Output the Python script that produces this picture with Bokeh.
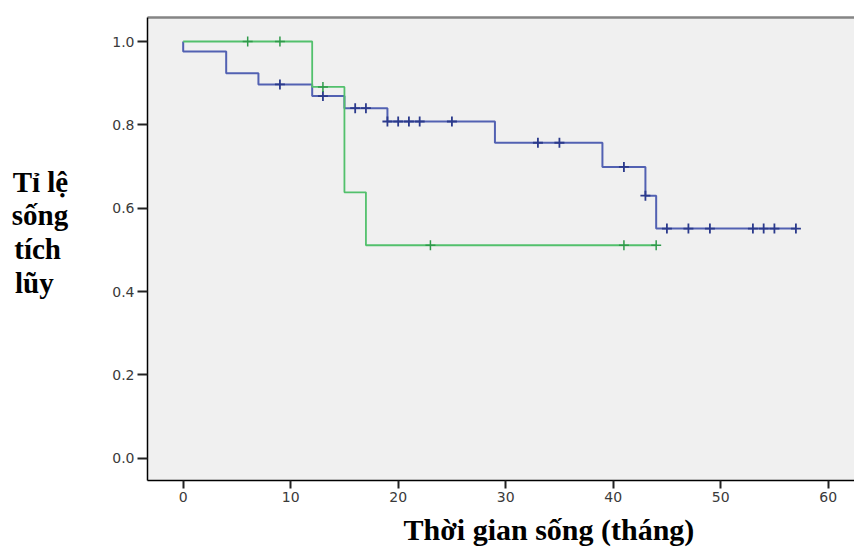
import numpy as np
from bokeh.plotting import figure
from bokeh.models import FixedTicker, PrintfTickFormatter, LinearAxis, Range1d, Title
from bokeh.embed import file_html
from bokeh.resources import INLINE

# Group 1 (blue) Kaplan-Meier steps
g1_times = [0, 0, 4, 7, 12, 15, 19, 29, 39, 43, 44, 57]
g1_surv = [1.0, 0.976, 0.924, 0.897, 0.869, 0.840, 0.808, 0.757, 0.699, 0.630, 0.551, 0.551]
g1_censor = [9, 13, 16, 17, 19, 20, 21, 22, 25, 33, 35, 41, 43, 45, 47, 49, 53, 54, 55, 57]

# Group 2 (green)
g2_times = [0, 12, 15, 17, 44]
g2_surv = [1.0, 0.891, 0.638, 0.511, 0.511]
g2_censor = [6, 9, 13, 23, 41, 44]

x_ticks = [0, 10, 20, 30, 40, 50, 60]
y_ticks = [0.0, 0.2, 0.4, 0.6, 0.8, 1.0]

x_title = "Thời gian sống (tháng)"
y_title = ["Tỉ lệ", "sống", "tích", "lũy"]

BLUE = "#5261b2"
BLUE_DARK = "#2b3a8c"
GREEN = "#52c06c"
GREEN_DARK = "#2f9a4a"
NBSP = "\u00a0"


def censor_y(times, surv, cens):
    t = np.asarray(times, dtype=float)
    s = np.asarray(surv, dtype=float)
    idx = np.searchsorted(t, np.asarray(cens, dtype=float), side="right") - 1
    return s[idx]


p = figure(width=854, height=551, output_backend="svg", toolbar_location=None,
           x_range=Range1d(-3.32, 62.45), y_range=Range1d(-0.0535, 1.0576),
           min_border_left=147, min_border_right=0, min_border_top=17, min_border_bottom=71)

p.background_fill_color = "#f0f0f0"
p.border_fill_color = "white"
p.outline_line_color = None
p.xgrid.visible = False
p.ygrid.visible = False

p.step(g1_times, g1_surv, mode="after", line_color=BLUE, line_width=2)
p.step(g2_times, g2_surv, mode="after", line_color=GREEN, line_width=1.8)

p.scatter(g1_censor, censor_y(g1_times, g1_surv, g1_censor), marker="cross", size=10,
          line_color=BLUE_DARK, line_width=1.8)
p.scatter(g2_censor, censor_y(g2_times, g2_surv, g2_censor), marker="cross", size=10,
          line_color=GREEN_DARK, line_width=1.5)

for ax in (p.xaxis[0], p.yaxis[0]):
    ax.axis_line_color = "black"
    ax.axis_line_width = 1.5
    ax.major_tick_line_color = "#222222"
    ax.major_tick_line_width = 2
    ax.major_tick_in = 0
    ax.minor_tick_line_color = None
    ax.major_label_text_font = "DejaVu Sans"
    ax.major_label_text_font_size = "14px"
    ax.major_label_text_color = "#3a3a3a"
    ax.major_label_standoff = 3

p.xaxis[0].ticker = FixedTicker(ticks=x_ticks)
p.xaxis[0].major_tick_out = 8
p.yaxis[0].ticker = FixedTicker(ticks=y_ticks)
p.yaxis[0].formatter = PrintfTickFormatter(format="%.1f")
p.yaxis[0].major_tick_out = 10

# y title: horizontal multi-line axis label; short lines padded so they read left-aligned,
# and a blank last line lifts the block to sit where the reference puts it
pads = ["", "", NBSP, NBSP * 2]
ya = p.yaxis[0]
ya.axis_label = "\n".join([t + pad for t, pad in zip(y_title, pads)] + [NBSP])
ya.axis_label_orientation = "horizontal"
ya.axis_label_text_font = "Liberation Serif"
ya.axis_label_text_font_style = "bold"
ya.axis_label_text_font_size = "29px"
ya.axis_label_text_color = "black"
ya.axis_label_text_line_height = 1.05
ya.axis_label_standoff = 41

top = LinearAxis(axis_line_color="#858585", axis_line_width=2.5,
                 ticker=FixedTicker(ticks=[]),
                 major_tick_line_color=None, minor_tick_line_color=None)
p.add_layout(top, "above")

p.add_layout(Title(text=x_title, align="left", offset=256,
                   text_font="Liberation Serif", text_font_style="bold",
                   text_font_size="30px", text_color="black", standoff=12,
                   text_line_height=0.8), "below")

open("out.html", "w").write(file_html(p, INLINE))
